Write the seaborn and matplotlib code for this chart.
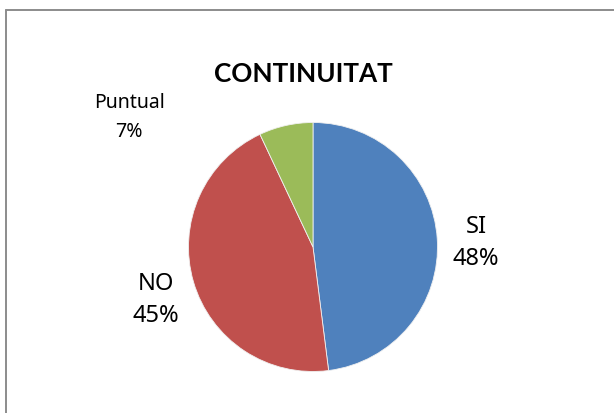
import matplotlib.pyplot as plt
import seaborn as sns
from matplotlib.lines import Line2D

sns.set_theme(style="white")
plt.rcParams["font.family"] = ["Noto Sans", "DejaVu Sans"]

labels = ["SI", "NO", "Puntual"]
shares = [48, 45, 7]
colors = ["#4F81BD", "#C0504D", "#9BBB59"]

W, H = 614, 414

fig = plt.figure(figsize=(W / 100, H / 100), dpi=100)
ax = fig.add_axes([0, 0, 1, 1])

# pie in pixel units (y flipped)
ax.pie(
    shares,
    colors=colors,
    startangle=90,
    counterclock=False,
    center=(313, H - 248),
    radius=124.5,
    wedgeprops={"linewidth": 0.6, "edgecolor": "#f0f0f0"},
    frame=True,
)
ax.set_xlim(0, W)
ax.set_ylim(0, H)
ax.axis("off")

# chart frame (only top and left edges visible)
ax.add_line(Line2D([6, 6], [H - 11, 0], color="#8c8c8c", linewidth=1.4))
ax.add_line(Line2D([6, W], [H - 11, H - 11], color="#8c8c8c", linewidth=1.4))

ax.text(303, H - 82, "CONTINUITAT", ha="center", va="baseline",
        fontsize=18.8, fontweight="bold", color="black", family="Lato")

# x, baseline of name, baseline of percent, font size (pixels from top)
label_pos = {"SI": (476, 233, 265, 17), "NO": (156, 290, 322, 17),
             "Puntual": (129, 108.5, 137, 14)}
for lab, val in zip(labels, shares):
    x, y1, y2, fs = label_pos[lab]
    ax.text(x, H - y1, lab, ha="center", va="baseline", fontsize=fs, color="black")
    ax.text(x, H - y2, f"{val}%", ha="center", va="baseline", fontsize=fs, color="black")

fig.savefig("out.png", dpi=100, facecolor="white")
